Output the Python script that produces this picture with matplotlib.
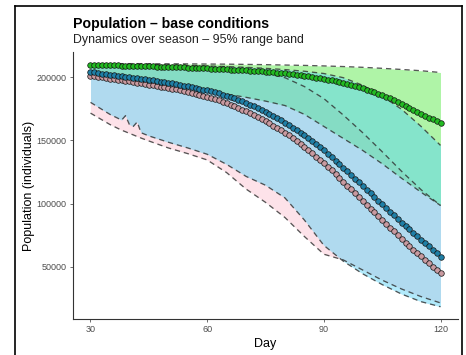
import numpy as np
import matplotlib
matplotlib.use("Agg")
from matplotlib import pyplot as plt
from matplotlib.lines import Line2D

plt.rcParams['font.family'] = ['Liberation Sans', 'DejaVu Sans']

# daily mean trajectories (thousands of individuals), day 30..120
day = list(range(30, 121))
green_mean = [209.5, 209.5, 209.4, 209.4, 209.3, 209.3, 209.2, 209.2, 209.1, 209.1,
              209.0, 208.9, 208.8, 208.7, 208.6, 208.5, 208.4, 208.3, 208.2, 208.1,
              208.0, 207.9, 207.8, 207.7, 207.6, 207.4, 207.3, 207.2, 207.0, 206.9,
              206.8, 206.6, 206.5, 206.3, 206.2, 206.0, 205.9, 205.7, 205.5, 205.4,
              205.2, 205.0, 204.8, 204.6, 204.4, 204.2, 203.9, 203.7, 203.5, 203.2,
              203.0, 202.7, 202.3, 201.9, 201.5, 201.1, 200.6, 200.1, 199.6, 199.1,
              198.5, 197.9, 197.3, 196.6, 195.9, 195.1, 194.3, 193.5, 192.7, 191.9,
              191.0, 190.0, 189.0, 188.0, 186.9, 185.7, 184.5, 183.2, 181.9, 180.2,
              178.5, 177.0, 175.5, 174.0, 172.5, 171.0, 169.5, 168.0, 166.5, 165.0,
              163.5]
blue_mean = [204.0, 203.6, 203.2, 202.8, 202.4, 202.0, 201.6, 201.2, 200.8, 200.4,
             200.0, 199.6, 199.1, 198.7, 198.2, 197.8, 197.3, 196.9, 196.4, 196.0,
             195.5, 195.0, 194.5, 193.9, 193.3, 192.7, 192.1, 191.4, 190.7, 190.1,
             189.5, 188.7, 187.9, 187.1, 186.2, 185.3, 184.3, 183.2, 182.0, 180.8,
             179.5, 178.2, 176.8, 175.4, 173.9, 172.4, 170.8, 169.2, 167.5, 165.8,
             164.0, 162.1, 160.1, 158.1, 156.0, 153.9, 151.7, 149.5, 147.2, 144.6,
             142.0, 139.4, 136.7, 133.9, 131.1, 128.3, 125.5, 122.6, 119.8, 116.9,
             114.0, 111.1, 108.2, 105.3, 102.4, 99.5, 96.6, 93.7, 90.8, 87.9,
             85.0, 82.3, 79.6, 76.9, 74.2, 71.5, 68.8, 66.1, 63.4, 60.7,
             58.0]
pink_mean = [201.0, 200.6, 200.1, 199.7, 199.2, 198.8, 198.3, 197.9, 197.4, 197.0,
             196.5, 196.0, 195.5, 195.0, 194.5, 194.0, 193.5, 193.0, 192.5, 192.0,
             191.5, 190.9, 190.3, 189.7, 189.0, 188.3, 187.6, 186.8, 186.1, 185.3,
             184.5, 183.6, 182.6, 181.6, 180.5, 179.4, 178.2, 176.9, 175.6, 174.3,
             173.0, 171.6, 170.1, 168.6, 167.0, 165.3, 163.5, 161.7, 159.9, 158.0,
             156.0, 153.9, 151.7, 149.4, 147.1, 144.7, 142.3, 139.8, 137.2, 134.6,
             132.0, 129.1, 126.2, 123.2, 120.2, 117.2, 114.2, 111.2, 108.1, 105.1,
             102.0, 99.0, 96.0, 93.0, 90.0, 87.0, 84.0, 81.0, 78.0, 75.0,
             72.0, 69.2, 66.4, 63.7, 61.0, 58.3, 55.6, 52.9, 50.2, 47.6,
             45.0]

# 95% range bands (thousands)
band_day = [30, 35, 38, 39, 40, 41, 42, 43, 45, 50, 55, 60, 65, 70, 75, 80, 85, 90, 95, 100, 105, 110, 115, 120]
green_hi = [210.6, 210.6, 210.6, 210.6, 210.6, 210.6, 210.6, 210.6, 210.5, 210.5, 210.4, 210.3,
            210.2, 210.0, 209.8, 209.5, 209.2, 208.8, 208.3, 207.7, 206.9, 206.0, 205.0, 203.6]
green_lo = [203.8, 201.8, 200.6, 200.2, 199.8, 199.4, 199.0, 198.6, 197.7, 195.3, 192.6, 189.3,
            186.5, 184.0, 181.0, 177.5, 170.5, 161.0, 151.5, 142.0, 131.5, 120.0, 109.0, 98.5]
blue_hi = [210.4, 210.3, 210.2, 210.2, 210.1, 210.1, 210.0, 210.0, 209.9, 209.6, 209.2, 208.8,
           208.3, 207.7, 206.9, 205.9, 204.6, 202.8, 199.5, 193.5, 185.0, 174.5, 161.0, 146.0]
blue_lo = [180.0, 170.5, 166.0, 169.5, 162.5, 161.0, 164.5, 156.0, 153.5, 148.5, 144.0, 139.0,
           131.0, 121.5, 114.5, 104.5, 87.0, 67.0, 54.5, 44.5, 36.0, 28.5, 22.5, 18.5]
pink_hi = [209.0, 209.0, 208.9, 208.9, 208.8, 208.8, 208.7, 208.7, 208.5, 207.9, 207.3, 206.6,
           205.7, 204.6, 203.0, 199.5, 192.5, 183.0, 170.0, 156.0, 141.0, 125.5, 111.0, 98.5]
pink_lo = [171.5, 162.5, 158.0, 156.8, 155.5, 154.3, 153.0, 151.8, 149.5, 144.0, 139.5, 134.5,
           124.5, 111.5, 101.0, 89.0, 74.0, 60.0, 55.5, 47.5, 39.5, 32.5, 26.5, 21.5]

x_ticks = [30, 60, 90, 120]
y_ticks = [50000, 100000, 150000, 200000]

fig = plt.figure(figsize=(4.66, 3.55), dpi=100)
ax = fig.add_axes([73 / 466, 1 - 319 / 355, (458 - 73) / 466, (319 - 52) / 355])

bd = np.array(band_day)
bands = [(pink_lo, pink_hi, '#fab7c8', 0.4),
         (green_lo, green_hi, '#61eb51', 0.5),
         (blue_lo, blue_hi, '#53d2f7', 0.45)]
for lo, hi, col, a in bands:
    lo = np.array(lo) * 1000
    hi = np.array(hi) * 1000
    ax.fill_between(bd, lo, hi, color=col, alpha=a, lw=0)
for lo, hi, col, a in bands:
    for b in (lo, hi):
        ax.plot(bd, np.array(b) * 1000, color='#2e2e2e', lw=0.95, ls=(0, (4, 3)), alpha=0.8)

series = [(pink_mean, '#c99aa0'), (blue_mean, '#1f7fa6'), (green_mean, '#22bb22')]
for vals, col in series:
    ax.plot(day, np.array(vals) * 1000, ls='none', marker='o', ms=4.0,
            mfc=col, mec='#111111', mew=0.5)

ax.set_xlim(25.5, 124.5)
ax.set_ylim(8800, 219800)
ax.set_xticks(x_ticks)
ax.set_yticks(y_ticks)
ax.set_yticklabels([str(v) for v in y_ticks])
for s in ['top', 'right']:
    ax.spines[s].set_visible(False)
for s in ['left', 'bottom']:
    ax.spines[s].set_color('#333333')
    ax.spines[s].set_linewidth(0.8)
ax.tick_params(colors='#555555', labelsize=6.5, length=2.5, width=0.6, pad=2)
ax.tick_params(labelcolor='#4d4d4d')

ax.set_xlabel('Day', fontsize=9, labelpad=3)
ax.set_ylabel('Population (individuals)', fontsize=9, labelpad=1)

fig.text(73 / 466, 1 - 28 / 355, 'Population \u2013 base conditions', fontsize=10.2,
         fontweight='bold', va='baseline', ha='left')
fig.text(73 / 466, 1 - 43 / 355, 'Dynamics over season \u2013 95% range band', fontsize=8.9,
         va='baseline', ha='left', color='#222222')

# outer frame of the screenshot
for xs, ys in [([15, 15], [6, 355]), ([15, 462], [6, 6]), ([462, 462], [6, 355])]:
    fig.add_artist(Line2D([x / 466 for x in xs], [1 - y / 355 for y in ys],
                          color='black', lw=1.2))

plt.savefig('out.png', dpi=100)
